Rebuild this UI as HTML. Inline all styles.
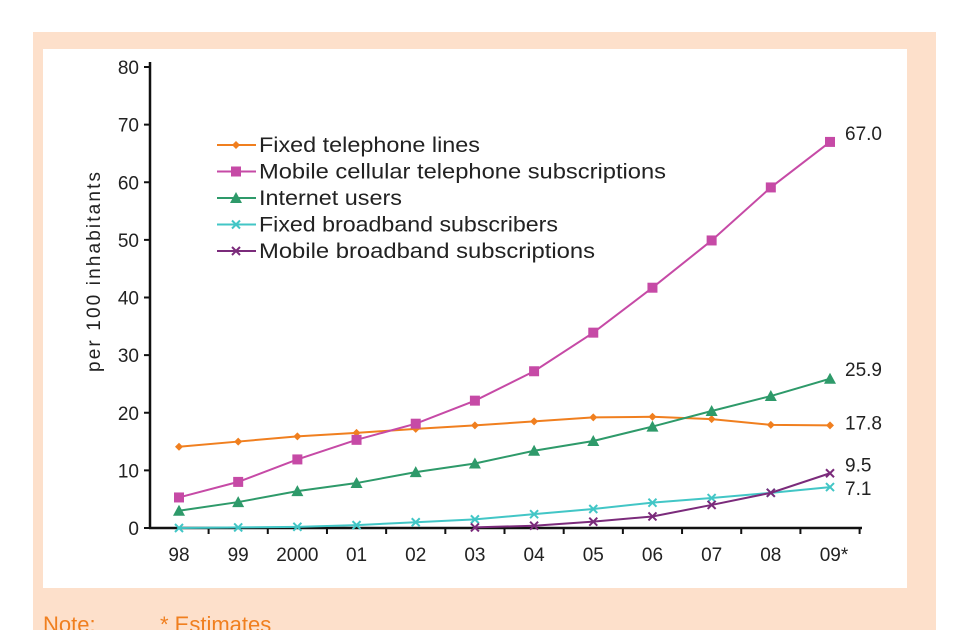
<!DOCTYPE html>
<html><head><meta charset="utf-8"><style>
body{margin:0;background:#fff;width:960px;height:630px;overflow:hidden;font-family:"Liberation Sans",sans-serif}
</style></head><body>
<svg id="c" width="960" height="630" xmlns="http://www.w3.org/2000/svg">
<rect x="33" y="32" width="903" height="610" fill="#fde0cb"/>
<rect x="43" y="49" width="864" height="539" fill="#fff"/>
<text x="43" y="632" font-size="22" fill="#f07f1f">Note:</text>
<text x="160" y="632" font-size="22" fill="#f07f1f">* Estimates</text>
<text transform="translate(100,272) rotate(-90)" text-anchor="middle" font-size="19" fill="#222" textLength="200">per 100 inhabitants</text>
<g id="g"></g>
</svg>
<script>
const categories=["98","99","2000","01","02","03","04","05","06","07","08","09*"];
const yTicks=[0,10,20,30,40,50,60,70,80];
const fixedLines=[14.1,15,15.9,16.5,17.2,17.8,18.5,19.2,19.3,18.9,17.9,17.8];
const mobileCellular=[5.3,8,11.9,15.3,18.1,22.1,27.2,33.9,41.7,49.9,59.1,67.0];
const internetUsers=[3,4.5,6.4,7.8,9.7,11.2,13.4,15.1,17.6,20.3,22.9,25.9];
const fixedBroadband=[0,0.1,0.2,0.5,1,1.5,2.4,3.3,4.4,5.2,6.1,7.1];
const mobileBroadband=[null,null,null,null,null,0.1,0.4,1.1,2.0,4.0,6.1,9.5];
const seriesNames=["Fixed telephone lines","Mobile cellular telephone subscriptions","Internet users","Fixed broadband subscribers","Mobile broadband subscriptions"];
const endLabels=["17.8","67.0","25.9","7.1","9.5"];
const legendWidths=[221,407,143,299,336];

const NS="http://www.w3.org/2000/svg";
const g=document.getElementById('g');
const x=i=>179+i*(830-179)/(categories.length-1);
const y=v=>528-v*(528-67)/80;
function el(t,a,p){const e=document.createElementNS(NS,t);for(const k in a)e.setAttribute(k,a[k]);(p||g).appendChild(e);return e;}
let a=el('line',{x1:150,y1:62,x2:150,y2:529,stroke:'#111','stroke-width':2.5});


a=el('line',{x1:149,y1:528,x2:862,y2:528,stroke:'#111','stroke-width':2.5});


yTicks.forEach(v=>{
 el('line',{x1:144,y1:y(v),x2:150,y2:y(v),stroke:'#111','stroke-width':2});
 const t=el('text',{x:139,y:y(v)+7,'text-anchor':'end','font-size':19,fill:'#222'});t.textContent=v;
 
 
});
categories.forEach((c,i)=>{
 el('line',{x1:x(i)+29.6,y1:528,x2:x(i)+29.6,y2:534,stroke:'#111','stroke-width':2});
 const t=el('text',{x:x(i)+(i==11?4:0),y:561,'text-anchor':'middle','font-size':19,fill:'#222'});t.textContent=c;
 
 
});
const data=[fixedLines,mobileCellular,internetUsers,fixedBroadband,mobileBroadband];
const colors=['#f07f1f','#c64aa6','#2e9a6a','#42c6c6','#7b2b7b'];
const kinds=['diamond','square','triangle','x','x'];
function marker(k,cx,cy,col,p){
 if(k=='diamond')return el('path',{d:`M${cx} ${cy-4}L${cx+4} ${cy}L${cx} ${cy+4}L${cx-4} ${cy}Z`,fill:col},p);
 if(k=='square')return el('rect',{x:cx-5,y:cy-5,width:10,height:10,fill:col},p);
 if(k=='triangle')return el('path',{d:`M${cx} ${cy-6}L${cx+6} ${cy+5}L${cx-6} ${cy+5}Z`,fill:col},p);
 return el('path',{d:`M${cx-4} ${cy-4}L${cx+4} ${cy+4}M${cx+4} ${cy-4}L${cx-4} ${cy+4}`,stroke:col,'stroke-width':2},p);
}
const labelDy=[4,-2,-3,8,-2];
data.forEach((s,si)=>{
 const grp=el('g',{});
 
 
 const pts=[];s.forEach((v,i)=>{if(v!==null)pts.push([x(i),y(v)]);});
 el('polyline',{points:pts.map(p=>p.join(',')).join(' '),fill:'none',stroke:colors[si],'stroke-width':2},grp);
 pts.forEach(p=>{const m=marker(kinds[si],p[0],p[1],colors[si],grp);
  
  });
 const last=pts[pts.length-1];
 const t=el('text',{x:845,y:last[1]+labelDy[si],'font-size':19,fill:'#222'},grp);t.textContent=endLabels[si];
 
 
 const ly=145+si*26.5;
 const lg=el('g',{});
 
 
 el('line',{x1:217,y1:ly,x2:256,y2:ly,stroke:colors[si],'stroke-width':2},lg);
 marker(kinds[si],236,ly,colors[si],lg);
 const lt=el('text',{x:259,y:ly+7,'font-size':21,fill:'#222',textLength:legendWidths[si],lengthAdjust:'spacingAndGlyphs'},lg);lt.textContent=seriesNames[si];
});
</script>
</body></html>
